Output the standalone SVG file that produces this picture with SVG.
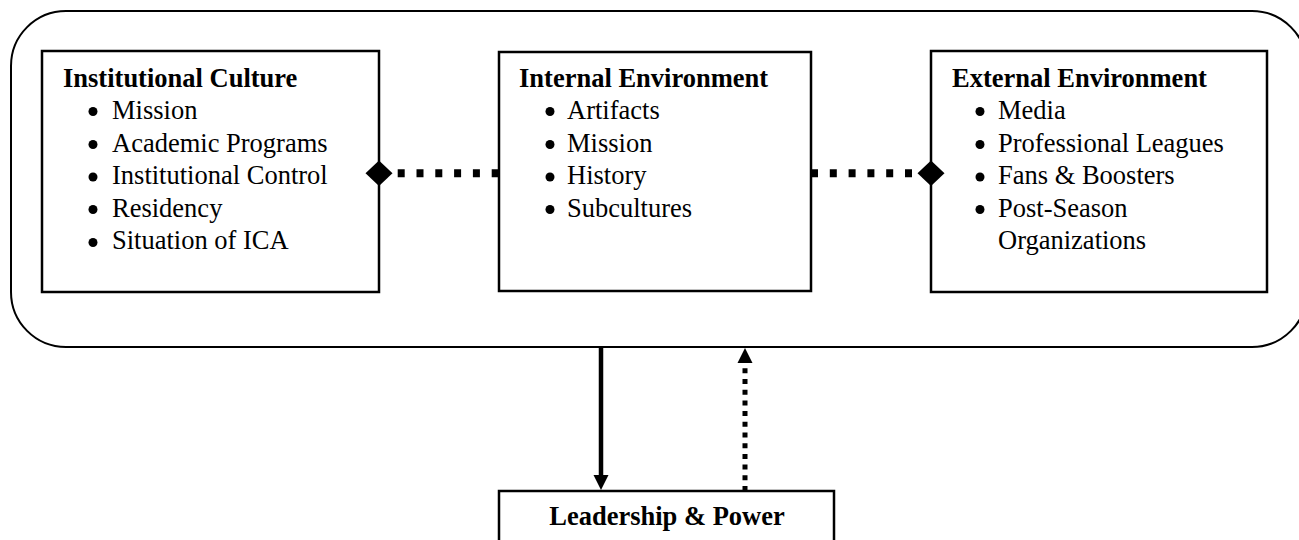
<svg xmlns="http://www.w3.org/2000/svg" width="1299" height="540" viewBox="0 0 1299 540">
<style>
text{font-family:"Liberation Serif","Times New Roman",serif;font-size:26.5px;fill:#000}
.t{font-weight:bold}
.box{fill:#fff;stroke:#000;stroke-width:2.5}
.outer{fill:#fff;stroke:#000;stroke-width:2}
.hdash{stroke:#000;stroke-width:8;stroke-dasharray:7 11.8;fill:none}
.vdash{stroke:#000;stroke-width:5;stroke-dasharray:5 5.7;fill:none}
.solid{stroke:#000;stroke-width:4.5;fill:none}
</style>
<defs>
<path id="diamond" d="M-13.5,0 L0,-12.7 L13.5,0 L0,12.7 Z" fill="#000"/>
<circle id="bul" r="4.5" fill="#000"/>
</defs>
<g id="container">
<rect class="outer" x="11" y="11" width="1296" height="336" rx="55" ry="55"/>
</g>
<g id="institutional-culture">
<rect class="box" x="42" y="51" width="337" height="241"/>
<text class="t" x="63" y="86.5">Institutional Culture</text>
<use href="#bul" x="93" y="111.5"/>
<use href="#bul" x="93" y="144.5"/>
<use href="#bul" x="93" y="177"/>
<use href="#bul" x="93" y="209.5"/>
<use href="#bul" x="93" y="242.5"/>
<text x="112" y="119">Mission</text>
<text x="112" y="151.6">Academic Programs</text>
<text x="112" y="184.2">Institutional Control</text>
<text x="112" y="216.8">Residency</text>
<text x="112" y="249.4">Situation of ICA</text>
</g>
<g id="internal-environment">
<rect class="box" x="499" y="52" width="312" height="239"/>
<text class="t" x="519" y="86.5">Internal Environment</text>
<use href="#bul" x="550" y="111.5"/>
<use href="#bul" x="550" y="144.5"/>
<use href="#bul" x="550" y="177"/>
<use href="#bul" x="550" y="209.5"/>
<text x="567" y="119">Artifacts</text>
<text x="567" y="151.6">Mission</text>
<text x="567" y="184.2">History</text>
<text x="567" y="216.8">Subcultures</text>
</g>
<g id="external-environment">
<rect class="box" x="931" y="51" width="336" height="241"/>
<text class="t" x="952" y="86.5">External Environment</text>
<use href="#bul" x="980" y="111.5"/>
<use href="#bul" x="980" y="144.5"/>
<use href="#bul" x="980" y="177"/>
<use href="#bul" x="980" y="209.5"/>
<text x="998" y="119">Media</text>
<text x="998" y="151.6">Professional Leagues</text>
<text x="998" y="184.2">Fans &amp; Boosters</text>
<text x="998" y="216.8">Post-Season</text>
<text x="998" y="249.4">Organizations</text>
</g>
<g id="leadership-power">
<rect class="box" x="499" y="491" width="335" height="70"/>
<text class="t" x="667" y="525" text-anchor="middle">Leadership &amp; Power</text>
</g>
<g id="connectors">
<line class="hdash" x1="397.7" y1="173.3" x2="499" y2="173.3"/>
<use href="#diamond" x="379" y="173.3"/>
<line class="hdash" x1="811" y1="173.3" x2="912" y2="173.3"/>
<use href="#diamond" x="931" y="173.3"/>
<line class="solid" x1="601" y1="347" x2="601" y2="477"/>
<polygon points="593.5,475 608.5,475 601,490" fill="#000"/>
<line class="vdash" x1="745" y1="491" x2="745" y2="362"/>
<polygon points="737.5,363 752.5,363 745,348" fill="#000"/>
</g>
</svg>
